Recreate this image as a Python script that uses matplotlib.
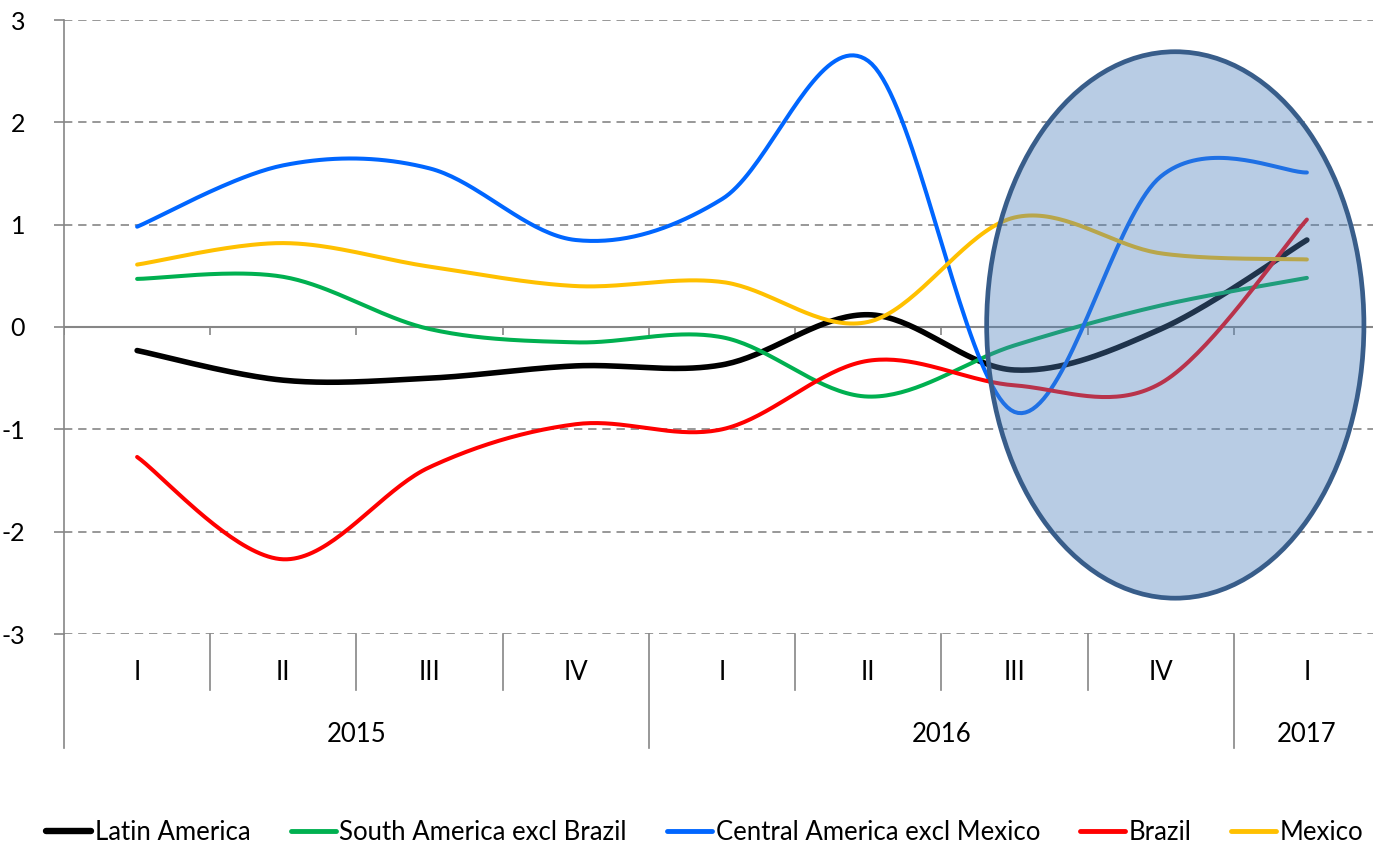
import numpy as np
import matplotlib
matplotlib.use("Agg")
from matplotlib import pyplot as plt
from matplotlib.patches import Ellipse
from matplotlib.lines import Line2D

quarters = ["I", "II", "III", "IV", "I", "II", "III", "IV", "I"]
years = ["2015", "2016", "2017"]
year_quarters = [4, 4, 1]

latin_america = [-0.23, -0.52, -0.50, -0.38, -0.37, 0.12, -0.42, -0.02, 0.85]
south_america = [0.47, 0.49, -0.02, -0.15, -0.10, -0.68, -0.18, 0.21, 0.48]
central_america = [0.98, 1.58, 1.55, 0.85, 1.25, 2.60, -0.83, 1.47, 1.51]
brazil = [-1.27, -2.27, -1.37, -0.95, -1.00, -0.33, -0.57, -0.55, 1.05]
mexico = [0.61, 0.82, 0.59, 0.40, 0.44, 0.05, 1.07, 0.72, 0.66]

series = [
    ("Latin America", latin_america, "#000000", 4.0),
    ("South America excl Brazil", south_america, "#00b050", 2.9),
    ("Central America excl Mexico", central_america, "#0066ff", 2.9),
    ("Brazil", brazil, "#ff0000", 2.9),
    ("Mexico", mexico, "#ffc000", 2.9),
]

# highlighted region (in data units)
ell_center = (7.1, 0.02)
ell_width = 2.58
ell_height = 5.34


def smooth(y, n=40):
    # bezier smoothing like excel's smoothed line
    x = np.arange(len(y), dtype=float)
    y = np.asarray(y, dtype=float)
    xs, ys = [], []
    for i in range(len(y) - 1):
        p0 = (x[max(i - 1, 0)], y[max(i - 1, 0)])
        p1 = (x[i], y[i])
        p2 = (x[i + 1], y[i + 1])
        p3 = (x[min(i + 2, len(y) - 1)], y[min(i + 2, len(y) - 1)])
        c1 = (p1[0] + (p2[0] - p0[0]) / 6, p1[1] + (p2[1] - p0[1]) / 6)
        c2 = (p2[0] - (p3[0] - p1[0]) / 6, p2[1] - (p3[1] - p1[1]) / 6)
        t = np.linspace(0, 1, n, endpoint=(i == len(y) - 2))
        a, b, c, d = (1 - t) ** 3, 3 * t * (1 - t) ** 2, 3 * t ** 2 * (1 - t), t ** 3
        xs.append(a * p1[0] + b * c1[0] + c * c2[0] + d * p2[0])
        ys.append(a * p1[1] + b * c1[1] + c * c2[1] + d * p2[1])
    return np.concatenate(xs), np.concatenate(ys)


plt.rcParams["font.family"] = ["Lato", "DejaVu Sans"]
grey = "#868686"
fs = 18.5

fig = plt.figure(figsize=(13.73, 8.48), dpi=100)
ax = fig.add_axes([64 / 1373, 1 - 634 / 848, 1316 / 1373, 614 / 848])

for name, vals, color, lw in series:
    sx, sy = smooth(vals)
    ax.plot(sx, sy, color=color, lw=lw, solid_capstyle="round", zorder=3)

ax.add_patch(Ellipse(ell_center, ell_width, ell_height, facecolor="#4f81bd", alpha=0.4,
                     edgecolor="none", zorder=4))
ax.add_patch(Ellipse(ell_center, ell_width, ell_height, facecolor="none",
                     edgecolor="#385d8a", lw=3.4, zorder=5))

n = len(quarters)
ax.set_xlim(-0.5, n - 0.5)
ax.set_ylim(-3, 3)
ax.set_yticks(range(-3, 4))
ax.set_yticklabels([str(v) for v in range(-3, 4)], fontsize=18)
ax.tick_params(axis="y", length=7, color=grey, width=1.2, pad=21)
ax.set_xticks([])

for v in [-3, -2, -1, 1, 2, 3]:
    ax.axhline(v, color=grey, lw=1.2, ls=(0, (5, 3.5)), zorder=1)
ax.axhline(0, color=grey, lw=1.5, zorder=2)
ax.vlines(np.arange(n + 1) - 0.5, -0.075, 0, color=grey, lw=1.2, zorder=2)

for s in ["top", "right", "bottom"]:
    ax.spines[s].set_visible(False)
ax.spines["left"].set_color(grey)
ax.spines["left"].set_linewidth(1.2)

# category labels below the plot
trans = ax.get_xaxis_transform()
for i, q in enumerate(quarters):
    ax.text(i, -0.0635, q, transform=trans, ha="center", va="center", fontsize=fs)

year_edges = np.concatenate([[0], np.cumsum(year_quarters)]) - 0.5
for i in range(n + 1):
    x = i - 0.5
    bottom = -0.1857 if x in year_edges else -0.0912
    ax.plot([x, x], [0, bottom], transform=trans, color=grey, lw=1.2, clip_on=False)
for yr, lo, hi in zip(years, year_edges[:-1], year_edges[1:]):
    ax.text((lo + hi) / 2, -0.163, yr, transform=trans, ha="center", va="center", fontsize=fs)

handles = [Line2D([], [], color=c, lw=lw + 0.6, solid_capstyle="round") for _, _, c, lw in series]
fig.legend(handles, [s[0] for s in series], loc="center", bbox_to_anchor=(705 / 1373, 1 - 832 / 848),
           ncol=5, frameon=False, fontsize=fs, handlelength=1.75, handletextpad=0.15,
           columnspacing=1.55)

fig.savefig("out.png", dpi=100)
